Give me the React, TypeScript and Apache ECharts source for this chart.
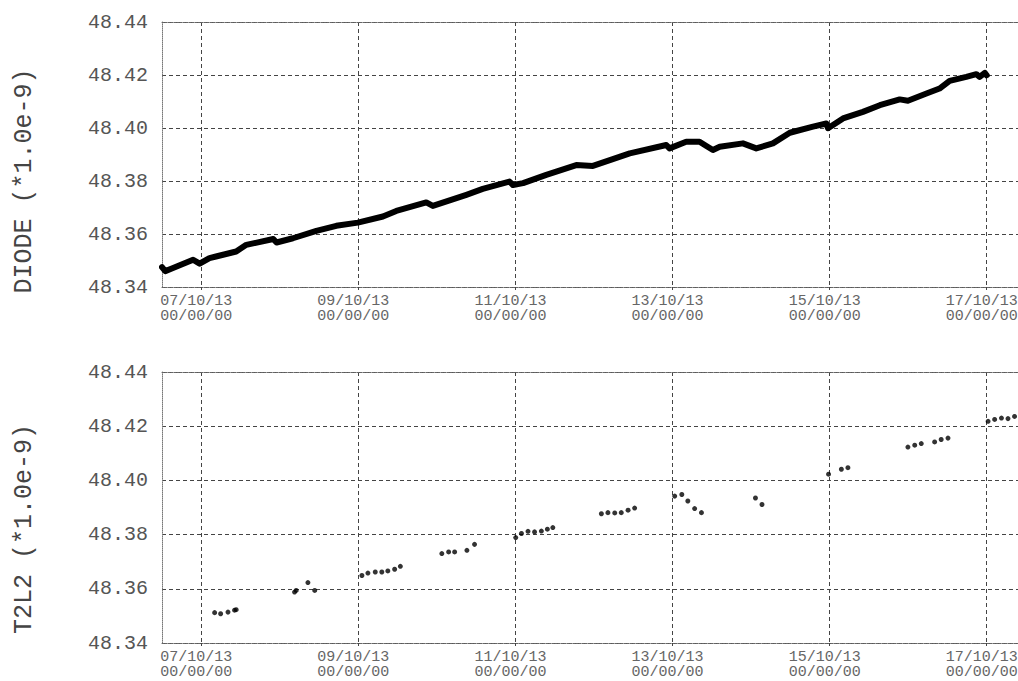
import React, { useEffect, useRef } from 'react';
import * as echarts from 'echarts';

const FONT = '"Liberation Mono", "DejaVu Sans Mono", monospace';

const X_MIN = '2013-10-06 12:00';
const X_MAX = '2013-10-17 12:00';

const tickDates = [
  '2013-10-07 00:00',
  '2013-10-09 00:00',
  '2013-10-11 00:00',
  '2013-10-13 00:00',
  '2013-10-15 00:00',
  '2013-10-17 00:00',
];
const tickDateLabels = ['07/10/13', '09/10/13', '11/10/13', '13/10/13', '15/10/13', '17/10/13'];
const tickTimeLabel = '00/00/00';

const Y_MIN = 48.34;
const Y_MAX = 48.44;
const Y_STEP = 0.02;

const titleTop = 'DIODE (*1.0e-9)';
const titleBottom = 'T2L2 (*1.0e-9)';

const diodeTimes = [
  '2013-10-06 12:00', '2013-10-06 13:00', '2013-10-06 15:00', '2013-10-06 21:30', '2013-10-06 23:30',
  '2013-10-07 02:30', '2013-10-07 04:30', '2013-10-07 10:40', '2013-10-07 13:45', '2013-10-07 22:00',
  '2013-10-07 23:00', '2013-10-08 04:00', '2013-10-08 11:10', '2013-10-08 17:15', '2013-10-08 23:50',
  '2013-10-09 07:30', '2013-10-09 11:35', '2013-10-09 20:45', '2013-10-09 22:45', '2013-10-10 09:00',
  '2013-10-10 14:00', '2013-10-10 22:10', '2013-10-10 23:15', '2013-10-11 02:20', '2013-10-11 09:25',
  '2013-10-11 18:35', '2013-10-11 23:40', '2013-10-12 10:55', '2013-10-12 22:05', '2013-10-12 23:05',
  '2013-10-13 04:10', '2013-10-13 08:15', '2013-10-13 10:20', '2013-10-13 12:20', '2013-10-13 14:25',
  '2013-10-13 21:30', '2013-10-14 01:35', '2013-10-14 06:40', '2013-10-14 11:50', '2013-10-14 18:55',
  '2013-10-14 23:00', '2013-10-14 23:30', '2013-10-15 04:05', '2013-10-15 10:10', '2013-10-15 15:20',
  '2013-10-15 21:25', '2013-10-15 23:55', '2013-10-16 05:35', '2013-10-16 09:35', '2013-10-16 12:40',
  '2013-10-16 17:45', '2013-10-16 20:50', '2013-10-16 21:50', '2013-10-16 23:25', '2013-10-17 00:00',
];
const diodeValues = [
  48.3475, 48.3460, 48.3470, 48.3503, 48.3488,
  48.3509, 48.3515, 48.3534, 48.3559, 48.3581,
  48.3568, 48.3584, 48.3612, 48.3631, 48.3643,
  48.3666, 48.3687, 48.3719, 48.3706, 48.3748,
  48.3770, 48.3798, 48.3785, 48.3792, 48.3823,
  48.3860, 48.3857, 48.3904, 48.3936, 48.3923,
  48.3948, 48.3948, 48.3932, 48.3917, 48.3929,
  48.3942, 48.3923, 48.3942, 48.3982, 48.4005,
  48.4017, 48.3999, 48.4036, 48.4061, 48.4086,
  48.4108, 48.4103, 48.4130, 48.4149, 48.4178,
  48.4193, 48.4203, 48.4193, 48.4208, 48.4199,
];

const t2l2Times = [
  '2013-10-07 04:05', '2013-10-07 05:55', '2013-10-07 08:10', '2013-10-07 10:10', '2013-10-07 10:40',
  '2013-10-08 04:30', '2013-10-08 05:00', '2013-10-08 08:35', '2013-10-08 10:40',
  '2013-10-09 01:05', '2013-10-09 02:55', '2013-10-09 05:10', '2013-10-09 07:10', '2013-10-09 09:00',
  '2013-10-09 11:05', '2013-10-09 12:50',
  '2013-10-10 01:30', '2013-10-10 03:35', '2013-10-10 05:25', '2013-10-10 09:10', '2013-10-10 11:30',
  '2013-10-11 00:05', '2013-10-11 01:50', '2013-10-11 03:50', '2013-10-11 05:50', '2013-10-11 07:55',
  '2013-10-11 09:45', '2013-10-11 11:25',
  '2013-10-12 02:15', '2013-10-12 04:15', '2013-10-12 06:20', '2013-10-12 08:20', '2013-10-12 10:25',
  '2013-10-12 12:25',
  '2013-10-13 00:40', '2013-10-13 02:50', '2013-10-13 04:40', '2013-10-13 06:45', '2013-10-13 08:50',
  '2013-10-14 01:20', '2013-10-14 03:20',
  '2013-10-14 23:40', '2013-10-15 03:35', '2013-10-15 05:35',
  '2013-10-15 23:55', '2013-10-16 02:00', '2013-10-16 04:00', '2013-10-16 08:05', '2013-10-16 10:05',
  '2013-10-16 12:10',
  '2013-10-17 00:25', '2013-10-17 02:25', '2013-10-17 04:30', '2013-10-17 06:30', '2013-10-17 08:30',
];
const t2l2Values = [
  48.3512, 48.3508, 48.3514, 48.3521, 48.3523,
  48.3588, 48.3594, 48.3623, 48.3594,
  48.3649, 48.3658, 48.3662, 48.3662, 48.3666,
  48.3672, 48.3683,
  48.3730, 48.3736, 48.3736, 48.3742, 48.3764,
  48.3789, 48.3804, 48.3812, 48.3810, 48.3813,
  48.3820, 48.3826,
  48.3877, 48.3881, 48.3880, 48.3881, 48.3890,
  48.3898,
  48.3942, 48.3948, 48.3924, 48.3896, 48.3881,
  48.3935, 48.3911,
  48.4023, 48.4041, 48.4047,
  48.4123, 48.4130, 48.4136, 48.4142, 48.4151,
  48.4156,
  48.4218, 48.4225, 48.4230, 48.4228, 48.4236,
];

function ms(s: string): number {
  const [d, h] = s.split(' ');
  const [Y, M, D] = d.split('-').map(Number);
  const [hh, mm] = h.split(':').map(Number);
  return Date.UTC(Y, M - 1, D, hh, mm);
}

export default function App() {
  const ref = useRef<HTMLDivElement>(null);

  useEffect(() => {
    if (!ref.current) return;
    const chart = echarts.init(ref.current, undefined, { renderer: 'svg' });

    const tickMs = tickDates.map(ms);
    const labelMap: Record<number, string> = {};
    tickMs.forEach((v, i) => {
      labelMap[v] = tickDateLabels[i] + '\n' + tickTimeLabel;
    });

    const gridLine = { color: '#444', type: [4, 3] as number[], width: 1 };
    const borderLine = { color: '#666', type: [2, 1] as number[], width: 1 };

    const mkX = (gridIndex: number) => ({
      type: 'value',
      gridIndex,
      min: ms(X_MIN),
      max: ms(X_MAX),
      axisLine: { show: true, onZero: false, lineStyle: borderLine },
      axisTick: { show: true, customValues: tickMs, length: 3, lineStyle: { color: '#444' } },
      axisLabel: {
        customValues: tickMs,
        formatter: (v: number) => labelMap[v] ?? '',
        fontFamily: FONT,
        fontSize: 15,
        lineHeight: 15,
        color: '#666',
        margin: 7,
        padding: [0, 10, 0, 0],
      },
      splitLine: { show: true, lineStyle: gridLine },
    });
    const mkTop = (gridIndex: number) => ({
      type: 'value',
      gridIndex,
      position: 'top',
      min: ms(X_MIN),
      max: ms(X_MAX),
      axisLine: { show: true, onZero: false, lineStyle: borderLine },
      axisTick: { show: false },
      axisLabel: { show: false },
      splitLine: { show: false },
    });
    const mkY = (gridIndex: number) => ({
      type: 'value',
      gridIndex,
      min: Y_MIN,
      max: Y_MAX,
      interval: Y_STEP,
      axisLine: { show: true, onZero: false, lineStyle: { color: '#777', type: [1, 1], width: 1 } },
      axisTick: { show: false },
      axisLabel: {
        formatter: (v: number) => v.toFixed(2),
        fontFamily: FONT,
        fontSize: 20,
        color: '#555',
        margin: 14,
        padding: [0, 0, 10, 0],
      },
      splitLine: { show: true, lineStyle: gridLine },
    });

    chart.setOption({
      animation: false,
      backgroundColor: '#fff',
      grid: [
        { left: 162, top: 22, width: 864, height: 265, outerBoundsMode: 'none', containLabel: false },
        { left: 162, top: 372, width: 864, height: 271, outerBoundsMode: 'none', containLabel: false },
      ],
      xAxis: [mkX(0), mkTop(0), mkX(1), mkTop(1)],
      yAxis: [mkY(0), mkY(1)],
      graphic: [
        {
          type: 'text',
          x: 24,
          y: 181,
          rotation: Math.PI / 2,
          style: {
            text: titleTop,
            fontFamily: FONT,
            fontSize: 25,
            fill: '#444',
            textAlign: 'center',
            textVerticalAlign: 'middle',
          },
        },
        {
          type: 'text',
          x: 24,
          y: 529,
          rotation: Math.PI / 2,
          style: {
            text: titleBottom,
            fontFamily: FONT,
            fontSize: 25,
            fill: '#444',
            textAlign: 'center',
            textVerticalAlign: 'middle',
          },
        },
      ],
      series: [
        {
          name: 'DIODE',
          type: 'line',
          xAxisIndex: 0,
          yAxisIndex: 0,
          data: diodeTimes.map((s, i) => [ms(s), diodeValues[i]]),
          showSymbol: false,
          symbol: 'none',
          lineStyle: { color: '#000', width: 6, cap: 'round', join: 'round' },
        },
        {
          name: 'T2L2',
          type: 'scatter',
          xAxisIndex: 2,
          yAxisIndex: 1,
          data: t2l2Times.map((s, i) => [ms(s), t2l2Values[i]]),
          symbol: 'circle',
          symbolSize: 5,
          itemStyle: { color: '#000' },
        },
      ],
    });

    return () => chart.dispose();
  }, []);

  return (
    <div
      ref={ref}
      style={{ position: 'absolute', left: 0, top: 0, width: 1018, height: 681, overflow: 'hidden' }}
    />
  );
}
